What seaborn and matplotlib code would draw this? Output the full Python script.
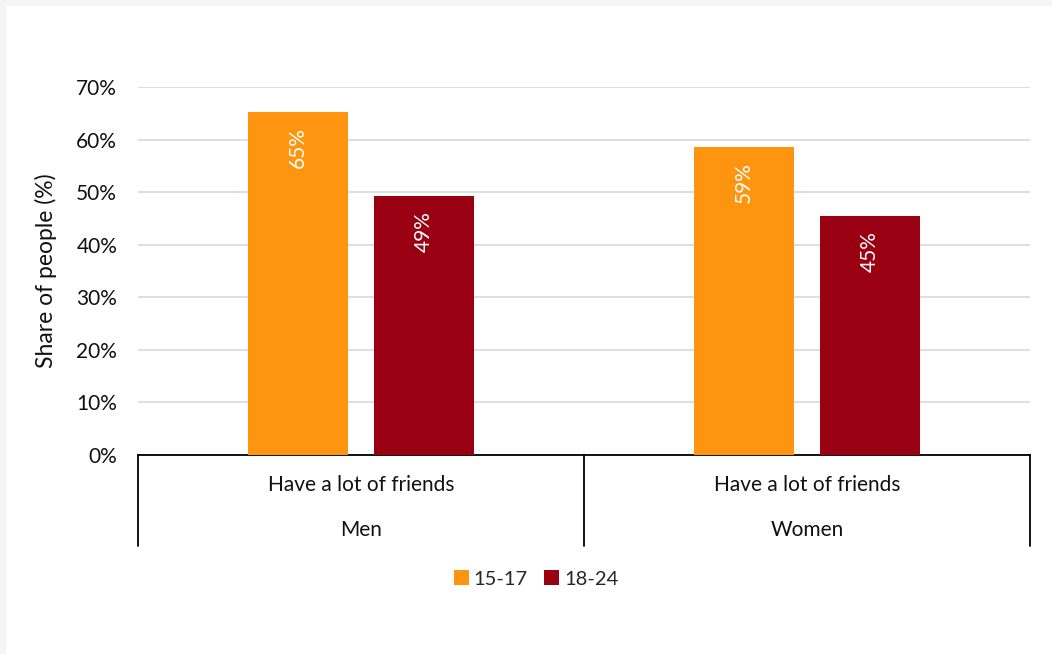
import numpy as np
import pandas as pd
import matplotlib
matplotlib.use('Agg')
import matplotlib.pyplot as plt
import seaborn as sns
from matplotlib.patches import Rectangle
from matplotlib.ticker import PercentFormatter

# chart data
groups = ['Men', 'Women']
sub_label = 'Have a lot of friends'
age_bands = ['15-17', '18-24']
share_15_17 = [65.2, 58.6]
share_18_24 = [49.2, 45.4]
bar_colors = ['#FF9411', '#990011']

df = pd.DataFrame({
    'group': groups * 2,
    'age': [age_bands[0]] * 2 + [age_bands[1]] * 2,
    'share': share_15_17 + share_18_24,
})

sns.set_style('white')
plt.rcParams['font.family'] = ['Lato', 'DejaVu Sans']
fs = 15

fig = plt.figure(figsize=(10.52, 6.54), dpi=100, facecolor='#f5f5f5')
# white chart area with a thin grey frame at top/left
fig.patches.append(Rectangle((6 / 1052, 0), 1, 1 - 6 / 654, transform=fig.transFigure,
                             facecolor='white', edgecolor='none', zorder=-10))
ax = fig.add_axes([138 / 1052, 1 - 455 / 654, (1030 - 138) / 1052, (455 - 87) / 654])
ax.set_facecolor('none')

sns.barplot(data=df, x='group', y='share', hue='age', palette=bar_colors,
            width=0.567, gap=0.21, saturation=1, linewidth=0, ax=ax, legend=True, zorder=3)

ax.set_ylim(0, 70)
ax.set_xlim(-0.5, 1.5)
ax.yaxis.set_major_formatter(PercentFormatter(decimals=0))
ax.set_yticks(np.arange(0, 71, 10))
ax.grid(axis='y', color='#d9d9d9', linewidth=1.2, zorder=0)
ax.tick_params(axis='y', length=0, labelsize=fs, pad=15, colors='#111111')
ax.set_ylabel('Share of people (%)', fontsize=fs + 1.5, labelpad=14, color='#111111')
ax.set_xlabel('')
ax.set_xticks([])
for s in ['top', 'right', 'left']:
    ax.spines[s].set_visible(False)
ax.spines['bottom'].set_color('black')
ax.spines['bottom'].set_linewidth(1.3)

# data labels inside the top of each bar
for cont in ax.containers:
    for bar in cont:
        h = bar.get_height()
        ax.text(bar.get_x() + bar.get_width() / 2, h - 2.8, f'{h:.0f}%',
                rotation=90, ha='center', va='top', color='white', fontsize=fs, zorder=4)

# multi-level category axis
trans = ax.get_xaxis_transform()
for xv in [-0.5, 0.5, 1.5]:
    ax.plot([xv, xv], [0, -0.247], transform=trans, color='black', lw=1.3, clip_on=False)
for i, g in enumerate(groups):
    ax.text(i, -0.082, sub_label, transform=trans, ha='center', va='center', fontsize=fs, color='#111111')
    ax.text(i, -0.204, g, transform=trans, ha='center', va='center', fontsize=fs, color='#111111')

handles, labels = ax.get_legend_handles_labels()
ax.legend_.remove()
fig.legend(handles, labels, loc='center', bbox_to_anchor=(536 / 1052, 1 - 579 / 654), ncol=2,
           frameon=False, fontsize=fs - 0.5, handlelength=0.75, handleheight=0.75, handletextpad=0.25,
           columnspacing=0.8)

fig.savefig('out.png', dpi=100, facecolor=fig.get_facecolor())
